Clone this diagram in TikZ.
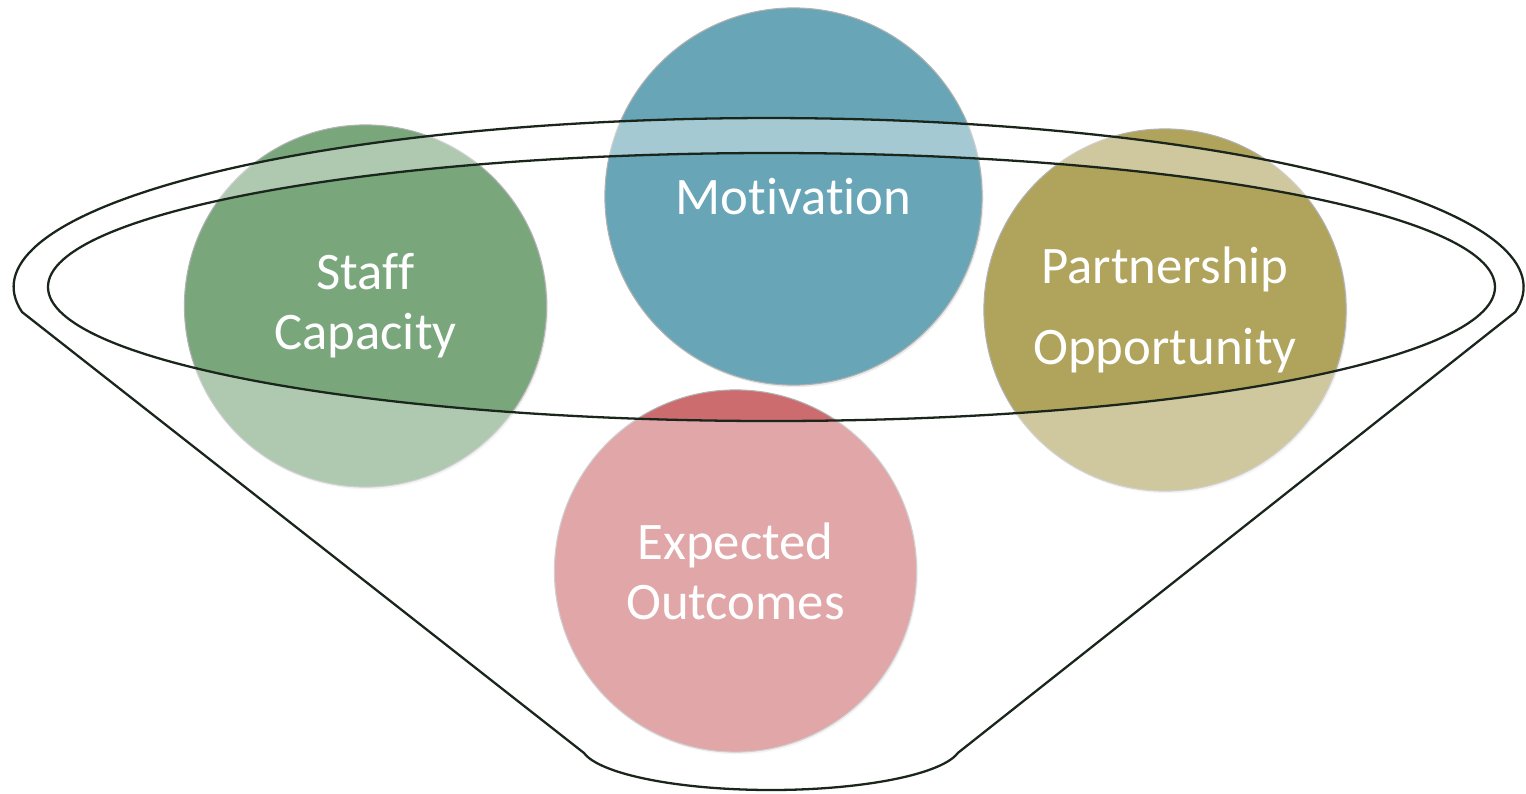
\documentclass[tikz,border=0pt]{standalone}
\usepackage{fontspec}
\setmainfont{Carlito}[Ligatures={NoCommon}]
\usetikzlibrary{shadows}

\definecolor{staffgreen}{HTML}{7AA67C}
\definecolor{motivblue}{HTML}{68A5B7}
\definecolor{partolive}{HTML}{B0A35C}
\definecolor{outcomered}{HTML}{CD6C6E}
\definecolor{funnelline}{HTML}{1A261C}

\tikzset{
  ball/.style={circle, inner sep=0pt, draw=black!30, line width=0.3pt,
    text=white, align=center, font=\fontsize{15}{17}\selectfont,
    drop shadow={opacity=0.15, shadow xshift=0.4pt, shadow yshift=-0.6pt}},
  funnel/.style={draw=funnelline, line width=0.65pt}
}

\begin{document}
\begin{tikzpicture}[x=0.01cm, y=0.01cm]
\useasboundingbox (0,0) rectangle (1526,-793);
% the four circles
\node [ball, fill=staffgreen, minimum size=3.62cm] (staff) at (365.5,-306) {Staff\\Capacity};
\node [ball, fill=motivblue, minimum size=3.77cm] (motiv) at (793.5,-196.5) {Motivation};
\node [ball, fill=partolive, minimum size=3.62cm] (partner) at (1165,-310) {Partnership\\[5.8pt]Opportunity};
\node [ball, fill=outcomered, minimum size=3.62cm] (outcome) at (735.5,-571) {Expected\\Outcomes};
% funnel body, lighter outside the rim
\fill [white, fill opacity=0.4, even odd rule]
  (22,-312) arc [start angle=188.5, end angle=-8.5, x radius=755, y radius=169]
  -- (958,-752.8) arc [start angle=-10, end angle=-170, x radius=190, y radius=45]
  -- cycle
  (771.5,-287) ellipse [x radius=723.5, y radius=134];
% funnel outline
\draw [funnel]
  (22,-312) arc [start angle=188.5, end angle=-8.5, x radius=755, y radius=169]
  -- (958,-752.8) arc [start angle=-10, end angle=-170, x radius=190, y radius=45]
  -- cycle;
\draw [funnel] (771.5,-287) ellipse [x radius=723.5, y radius=134];
\end{tikzpicture}
\end{document}
